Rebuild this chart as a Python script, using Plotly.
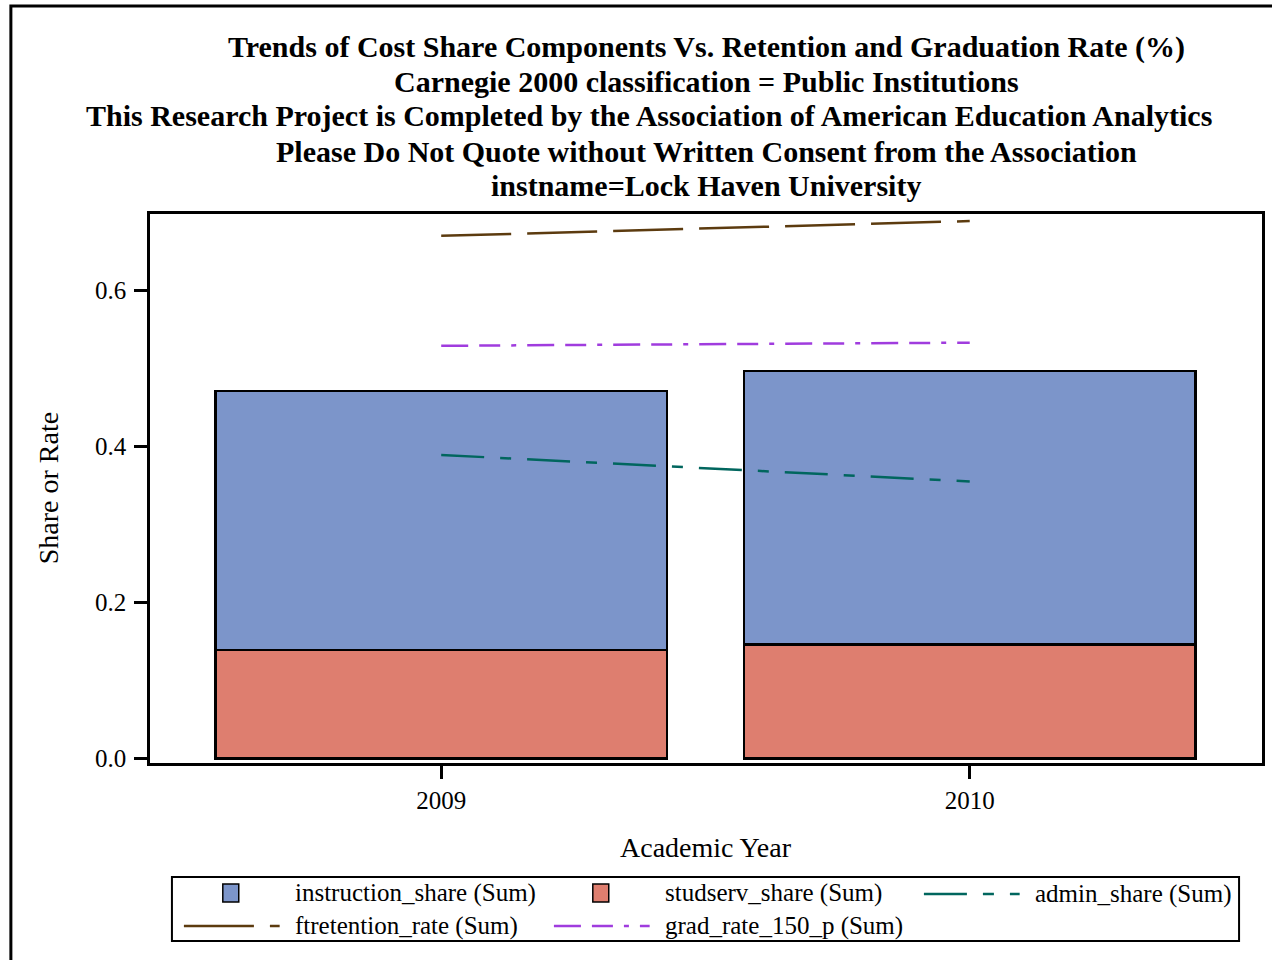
import plotly.graph_objects as go

# ---------------- data ----------------
years = [2009, 2010]
studserv_share = [0.139, 0.146]
instruction_share = [0.332, 0.351]
admin_share = [0.389, 0.355]
ftretention_rate = [0.670, 0.689]
grad_rate_150_p = [0.529, 0.533]

y_ticks = [0.0, 0.2, 0.4, 0.6]
y_ticktext = ["0.0", "0.2", "0.4", "0.6"]

title_lines = [
    "Trends of Cost Share Components Vs. Retention and Graduation Rate (%)",
    "Carnegie 2000 classification = Public Institutions",
    "This Research Project is Completed by the Association of American Education Analytics",
    "Please Do Not Quote without Written Consent from the Association",
    "instname=Lock Haven University",
]

# ---------------- styles ----------------
W, H = 1272, 960
PL, PR, PT, PB = 150, 1265, 214, 763  # plot area in px
SERIF = "Liberation Serif, Times New Roman, serif"
BLUE = "#7C95CA"
RED = "#DE7E6F"
BROWN = "#5C3B0F"
PURPLE = "#A03CDE"
TEAL = "#01665E"
DASH_FT = "70px,16px"
DASH_GR = "27px,11px,21px,11px,5px,11px"
DASH_AD = "43px,16px,11px,16px"
LW = 2.5


def px_x(x):
    return (x - PL) / (PR - PL)


def px_y(y):
    return (PB - y) / (PB - PT)


fig = go.Figure()

fig.add_trace(go.Bar(
    x=years, y=studserv_share, name="studserv_share (Sum)", width=0.855,
    marker=dict(color=RED, line=dict(color="black", width=2.5)),
))
fig.add_trace(go.Bar(
    x=years, y=instruction_share, name="instruction_share (Sum)", width=0.855,
    marker=dict(color=BLUE, line=dict(color="black", width=2.5)),
))
fig.add_trace(go.Scatter(
    x=years, y=admin_share, name="admin_share (Sum)", mode="lines",
    line=dict(color=TEAL, width=LW, dash=DASH_AD),
))
fig.add_trace(go.Scatter(
    x=years, y=ftretention_rate, name="ftretention_rate (Sum)", mode="lines",
    line=dict(color=BROWN, width=LW, dash=DASH_FT),
))
fig.add_trace(go.Scatter(
    x=years, y=grad_rate_150_p, name="grad_rate_150_p (Sum)", mode="lines",
    line=dict(color=PURPLE, width=LW, dash=DASH_GR),
))

annotations = []
shapes = []

# title lines (third line is shifted left in the original to stay inside)
title_pos = [(708, 47), (708, 81), (650, 116), (708, 151), (708, 185)]
for txt, (xc, yc) in zip(title_lines, title_pos):
    annotations.append(dict(
        text="<b>%s</b>" % txt, x=px_x(xc), y=px_y(yc), xref="paper", yref="paper",
        xanchor="center", yanchor="middle", showarrow=False,
        font=dict(family=SERIF, size=30, color="black"),
    ))

# axis titles
annotations.append(dict(
    text="Share or Rate", x=px_x(48), y=px_y(488), xref="paper", yref="paper",
    xanchor="center", yanchor="middle", textangle=-90, showarrow=False,
    font=dict(family=SERIF, size=28, color="black"),
))
annotations.append(dict(
    text="Academic Year", x=px_x(708), y=px_y(847), xref="paper", yref="paper",
    xanchor="center", yanchor="middle", showarrow=False,
    font=dict(family=SERIF, size=28, color="black"),
))

# outer border
shapes.append(dict(type="rect", xref="paper", yref="paper",
                   x0=px_x(10.5), y0=px_y(6), x1=px_x(1300), y1=px_y(990),
                   line=dict(color="black", width=3), fillcolor="rgba(0,0,0,0)"))

# legend box
shapes.append(dict(type="rect", xref="paper", yref="paper",
                   x0=px_x(172), y0=px_y(877), x1=px_x(1242), y1=px_y(941),
                   line=dict(color="black", width=2), fillcolor="white"))

legend_items = [
    ("box", BLUE, None, 231, 893, 293, "instruction_share (Sum)"),
    ("box", RED, None, 602, 893, 664, "studserv_share (Sum)"),
    ("line", TEAL, DASH_AD, 926, 894, 1035, "admin_share (Sum)"),
    ("line", BROWN, DASH_FT, 184, 926, 293, "ftretention_rate (Sum)"),
    ("line", PURPLE, DASH_GR, 555, 926, 664, "grad_rate_150_p (Sum)"),
]
for kind, col, dash, sx, sy, tx, label in legend_items:
    if kind == "box":
        shapes.append(dict(type="rect", xref="paper", yref="paper",
                           x0=px_x(sx - 8), x1=px_x(sx + 8), y0=px_y(sy - 9), y1=px_y(sy + 9),
                           line=dict(color="black", width=1.5), fillcolor=col))
    else:
        shapes.append(dict(type="line", xref="paper", yref="paper",
                           x0=px_x(sx), x1=px_x(sx + 96), y0=px_y(sy), y1=px_y(sy),
                           line=dict(color=col, width=LW, dash=dash)))
    annotations.append(dict(
        text=label, x=px_x(tx), y=px_y(sy), xref="paper", yref="paper",
        xanchor="left", yanchor="middle", showarrow=False,
        font=dict(family=SERIF, size=25, color="black"),
    ))

fig.update_layout(
    width=W, height=H, autosize=False,
    margin=dict(l=PL, r=W - PR, t=PT, b=H - PB, pad=0),
    paper_bgcolor="white", plot_bgcolor="white",
    barmode="stack", showlegend=False,
    font=dict(family=SERIF, size=25, color="black"),
    annotations=annotations, shapes=shapes,
    xaxis=dict(
        range=[2008.449, 2010.553], tickvals=years, ticktext=[str(y) for y in years],
        showgrid=False, zeroline=False, showline=True, mirror=True,
        linecolor="black", linewidth=2.5, ticks="outside", ticklen=13, tickwidth=2.5,
        tickcolor="black", tickfont=dict(family=SERIF, size=25, color="black"),
    ),
    yaxis=dict(
        range=[-0.006, 0.698], tickvals=y_ticks, ticktext=y_ticktext,
        showgrid=False, zeroline=False, showline=True, mirror=True,
        linecolor="black", linewidth=2.5, ticks="outside", ticklen=13, tickwidth=2.5,
        tickcolor="black", tickfont=dict(family=SERIF, size=25, color="black"),
        ticklabelstandoff=3,
    ),
)

fig.write_html("out.html", config={"displayModeBar": False},
               post_script="document.body.style.margin='0';")
